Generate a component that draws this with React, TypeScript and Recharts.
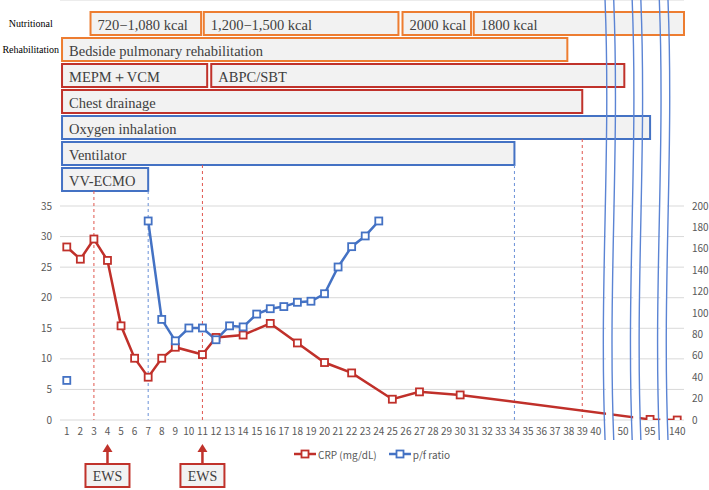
import {
  LineChart,
  Line,
  XAxis,
  YAxis,
  CartesianGrid,
  Legend,
  ReferenceArea,
  ReferenceLine,
  ReferenceDot,
} from "recharts";

// days on the x axis; blank entries are where the axis is broken
const DAY_LABELS = [
  "1", "2", "3", "4", "5", "6", "7", "8", "9", "10",
  "11", "12", "13", "14", "15", "16", "17", "18", "19", "20",
  "21", "22", "23", "24", "25", "26", "27", "28", "29", "30",
  "31", "32", "33", "34", "35", "36", "37", "38", "39", "40",
  "", "50", "", "95", "", "140",
];

// CRP (mg/dL), left axis
const CRP_VALUES = [
  28.3, 26.3, 29.6, 26.1, 15.4, 10.1, 7.0, 10.1, 11.9, null,
  10.7, 13.5, null, 13.9, null, 15.8, null, 12.6, null, 9.4,
  null, 7.7, null, null, 3.4, null, 4.6, null, null, 4.1,
  null, null, null, null, null, null, null, null, null, null,
  null, null, null, 0.1, null, 0,
];

// p/f ratio, right axis
const PF_VALUES = [
  37, null, null, null, null, null, 186, 94, 74, 86,
  86, 75, 88, 87, 99, 104, 106, 110, 111, 118,
  143, 162, 172, 186, null, null, null, null, null, null,
  null, null, null, null, null, null, null, null, null, null,
  null, null, null, null, null, null,
];

const LEFT_TICKS = [0, 5, 10, 15, 20, 25, 30, 35];
const RIGHT_TICKS = [0, 20, 40, 60, 80, 100, 120, 140, 160, 180, 200];
const GAP_POSITIONS = [41, 43, 45];
const EWS_DAYS = [4, 11];

// treatment timeline above the plot (x in axis positions)
const TREATMENTS = [
  { row: 0, kind: "nutrition", label: "720\u22121,080 kcal", from: 2.75, to: 10.9 },
  { row: 0, kind: "nutrition", label: "1,200\u22121,500 kcal", from: 11.1, to: 25.45 },
  { row: 0, kind: "nutrition", label: "2000 kcal", from: 25.75, to: 30.8 },
  { row: 0, kind: "nutrition", label: "1800 kcal", from: 31.0, to: 46.5 },
  { row: 1, kind: "nutrition", label: "Bedside pulmonary rehabilitation", from: 0.65, to: 37.9 },
  { row: 2, kind: "drug", label: "MEPM\uFF0BVCM", from: 0.65, to: 11.35 },
  { row: 2, kind: "drug", label: "ABPC/SBT", from: 11.65, to: 42.1 },
  { row: 3, kind: "drug", label: "Chest drainage", from: 0.65, to: 39 },
  { row: 4, kind: "resp", label: "Oxygen inhalation", from: 0.65, to: 44 },
  { row: 5, kind: "resp", label: "Ventilator", from: 0.65, to: 34 },
  { row: 6, kind: "resp", label: "VV-ECMO", from: 0.65, to: 7 },
];

const GROUP_LABELS = [
  { row: 0, label: "Nutritional" },
  { row: 1, label: "Rehabilitation" },
];

const DAY_MARKERS = [
  { day: 3, kind: "drug", belowRow: 6 },
  { day: 7, kind: "resp", belowRow: 6 },
  { day: 11, kind: "drug", belowRow: 5 },
  { day: 34, kind: "resp", belowRow: 5 },
  { day: 39, kind: "drug", belowRow: 4 },
];

const KIND_COLOR: Record<string, string> = {
  nutrition: "#ed7d31",
  drug: "#c0322b",
  resp: "#4472c4",
};
const MARKER_COLOR: Record<string, string> = {
  drug: "#e0564e",
  resp: "#6a90d8",
};

const RED = "#c0302a";
const BLUE = "#4472c4";
const SANS = '"Noto Sans CJK JP", "Noto Sans", sans-serif';
const SERIF = '"Liberation Serif", "DejaVu Serif", serif';

// layout: plot runs from y=0 to y=420, grid (0..35) takes the lower 214px
const PLOT_H = 420;
const GRID_H = 214;
const LEFT_MAX = (35 * PLOT_H) / GRID_H;
const RIGHT_MAX = (200 * PLOT_H) / GRID_H;
const ROW_PITCH = 26;
const ROWS_DOMAIN = [-12 / ROW_PITCH, (PLOT_H - 12) / ROW_PITCH];
const ROW_H = 23 / ROW_PITCH;

const data = DAY_LABELS.map((label, i) => ({
  pos: i + 1,
  label,
  crp: CRP_VALUES[i],
  pf: PF_VALUES[i],
}));

function SquareDot({ cx, cy, stroke }: any) {
  if (cx == null || cy == null) return null;
  return <rect x={cx - 3.5} y={cy - 3.5} width={7} height={7} fill="#fff" stroke={stroke} strokeWidth={1.8} />;
}

function BoxShape({ x, y, width, height, color, label }: any) {
  return (
    <g>
      <rect x={x} y={y} width={width} height={height} fill="#f2f2f2" stroke={color} strokeWidth={2} />
      <text
        x={x + 7}
        y={y + height / 2 + 1}
        dominantBaseline="central"
        fontFamily={SERIF}
        fontSize={14.5}
        fill="#404040"
      >
        {label}
      </text>
    </g>
  );
}

function BreakShape({ x, y, width, height }: any) {
  const span = ROWS_DOMAIN[1] - ROWS_DOMAIN[0];
  const fillTop = y + ((7 - ROWS_DOMAIN[0]) / span) * height;
  const bottom = y + height + 20;
  const h = bottom - y;
  const wave = (x0: number) =>
    `M${x0},${y} C${x0 + 6},${y + h * 0.35} ${x0 - 6},${y + h * 0.65} ${x0},${bottom}`;
  return (
    <g>
      <rect x={x + 1} y={fillTop} width={width - 2} height={y + height - fillTop + 2} fill="#fff" />
      <path d={wave(x)} fill="none" stroke="#5b84d4" strokeWidth={1.4} />
      <path d={wave(x + width)} fill="none" stroke="#5b84d4" strokeWidth={1.4} />
    </g>
  );
}

function EwsShape({ cx, cy }: any) {
  return (
    <g>
      <line x1={cx} y1={cy + 30} x2={cx} y2={cy + 43} stroke="#c0322b" strokeWidth={2.5} />
      <polygon points={`${cx},${cy + 24} ${cx - 5},${cy + 32} ${cx + 5},${cy + 32}`} fill="#c0322b" />
      <rect x={cx - 22} y={cy + 44} width={44} height={23} fill="#f2f2f2" stroke="#c0322b" strokeWidth={2} />
      <text
        x={cx}
        y={cy + 56}
        textAnchor="middle"
        dominantBaseline="central"
        fontFamily={SERIF}
        fontSize={14}
        fill="#404040"
      >
        EWS
      </text>
    </g>
  );
}

function GroupLabelShape({ cx, cy, label }: any) {
  return (
    <text x={cx - 36} y={cy} textAnchor="middle" dominantBaseline="central" fontFamily={SERIF} fontSize={10} fill="#000">
      {label}
    </text>
  );
}

function LegendContent() {
  const items = [
    { name: "CRP (mg/dL)", color: RED },
    { name: "p/f ratio", color: BLUE },
  ];
  return (
    <div
      style={{
        display: "flex",
        justifyContent: "center",
        alignItems: "center",
        gap: 12,
        height: 16,
        fontFamily: SANS,
        fontSize: 10,
        color: "#595959",
      }}
    >
      {items.map((it) => (
        <span key={it.name} style={{ display: "flex", alignItems: "center" }}>
          <svg width={22} height={10} style={{ marginRight: 2 }}>
            <line x1={0} y1={5} x2={22} y2={5} stroke={it.color} strokeWidth={2.5} />
            <rect x={7.5} y={1.5} width={7} height={7} fill="#fff" stroke={it.color} strokeWidth={1.8} />
          </svg>
          {it.name}
        </span>
      ))}
    </div>
  );
}

export default function App() {
  const tick = { fontSize: 10, fill: "#595959", fontFamily: SANS };
  return (
    <div style={{ width: 709, height: 490, background: "#fff" }}>
      <style>{"body{margin:0}"}</style>
      <LineChart width={709} height={490} data={data} margin={{ top: 0, right: 0, bottom: 28, left: 0 }}>
        <CartesianGrid vertical={false} stroke="#d9d9d9" />
        <XAxis
          dataKey="pos"
          type="number"
          domain={[0.5, 46.5]}
          ticks={data.map((d) => d.pos)}
          interval={0}
          tickFormatter={(v: number) => DAY_LABELS[v - 1] ?? ""}
          tick={tick}
          tickLine={false}
          axisLine={false}
          height={26}
          allowDataOverflow
        />
        <YAxis
          domain={[0, LEFT_MAX]}
          ticks={LEFT_TICKS}
          tick={tick}
          tickLine={false}
          axisLine={false}
          width={60}
          allowDataOverflow
        />
        <YAxis
          yAxisId="right"
          orientation="right"
          domain={[0, RIGHT_MAX]}
          ticks={RIGHT_TICKS}
          tick={tick}
          tickLine={false}
          axisLine={false}
          width={25}
          allowDataOverflow
        />
        <YAxis yAxisId="rows" hide reversed type="number" domain={ROWS_DOMAIN} allowDataOverflow />

        {DAY_MARKERS.map((m) => (
          <ReferenceLine
            key={`m${m.day}`}
            yAxisId="rows"
            ifOverflow="visible"
            segment={[
              { x: m.day, y: m.belowRow + ROW_H },
              { x: m.day, y: ROWS_DOMAIN[1] },
            ]}
            stroke={MARKER_COLOR[m.kind]}
            strokeDasharray="3 3"
            strokeWidth={1}
          />
        ))}

        {TREATMENTS.map((t) => (
          <ReferenceArea
            key={t.label}
            yAxisId="rows"
            x1={t.from}
            x2={t.to}
            y1={t.row}
            y2={t.row + ROW_H}
            ifOverflow="visible"
            shape={(p: any) => <BoxShape {...p} color={KIND_COLOR[t.kind]} label={t.label} />}
          />
        ))}

        {GROUP_LABELS.map((g) => (
          <ReferenceDot
            key={g.label}
            yAxisId="rows"
            x={1}
            y={g.row + ROW_H / 2}
            ifOverflow="visible"
            shape={(p: any) => <GroupLabelShape {...p} label={g.label} />}
          />
        ))}

        <Line
          dataKey="crp"
          name="CRP (mg/dL)"
          stroke={RED}
          strokeWidth={2.5}
          connectNulls
          dot={<SquareDot stroke={RED} />}
          activeDot={false}
          isAnimationActive={false}
        />
        <Line
          dataKey="pf"
          name="p/f ratio"
          yAxisId="right"
          stroke={BLUE}
          strokeWidth={2.5}
          dot={<SquareDot stroke={BLUE} />}
          activeDot={false}
          isAnimationActive={false}
        />

        {GAP_POSITIONS.map((g) => (
          <ReferenceArea
            key={`gap${g}`}
            yAxisId="rows"
            x1={g - 0.32}
            x2={g + 0.32}
            y1={ROWS_DOMAIN[0]}
            y2={ROWS_DOMAIN[1]}
            ifOverflow="visible"
            zIndex={1600}
            shape={(p: any) => <BreakShape {...p} />}
          />
        ))}

        {EWS_DAYS.map((d) => (
          <ReferenceDot key={`ews${d}`} x={d} y={0} ifOverflow="visible" shape={(p: any) => <EwsShape {...p} />} />
        ))}

        <Legend verticalAlign="bottom" align="center" content={<LegendContent />} wrapperStyle={{ left: 60, width: 624 }} />
      </LineChart>
    </div>
  );
}
